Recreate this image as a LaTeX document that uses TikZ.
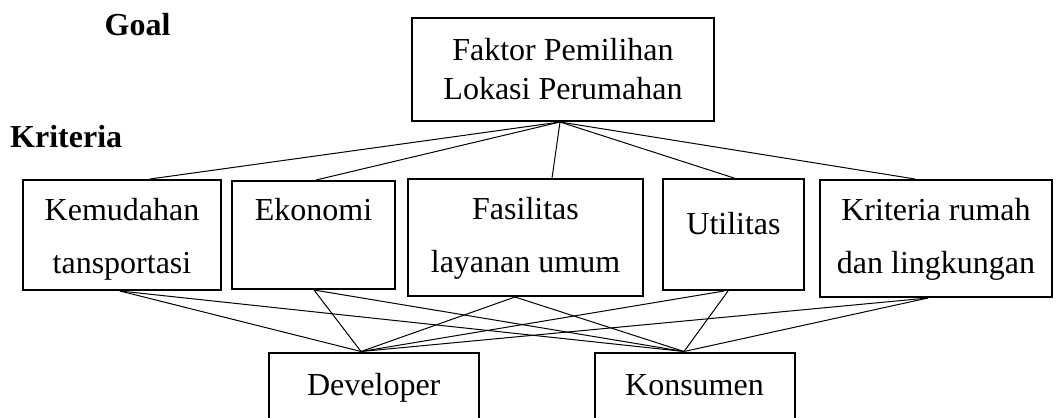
\documentclass[tikz,border=0pt]{standalone}
\usepackage{fontspec}
\setmainfont{Liberation Serif}
\newcommand{\twoline}[4]{\rule{0pt}{#1bp}#3\\#4\rule[-#2bp]{0pt}{#2bp}}
\newcommand{\oneline}[3]{\rule{0pt}{#1bp}#3\rule[-#2bp]{0pt}{#2bp}}
\begin{document}
\begin{tikzpicture}[x=1bp,y=-1bp,
  critbox/.style={draw, line width=2bp, inner sep=0pt, align=center,
    font=\fontsize{32bp}{53bp}\selectfont},
  levellabel/.style={inner sep=0pt, font=\fontsize{32bp}{38bp}\selectfont\bfseries},
  conn/.style={line width=1bp}]
\clip (0,0) rectangle (1057,417);
% level labels
\node[levellabel, anchor=base] (goallbl) at (137.5,35.5) {Goal};
\node[levellabel, anchor=base west] (kritlbl) at (10,147.6) {Kriteria};
% goal
\node[critbox, minimum width=302bp, minimum height=103bp,
  font=\fontsize{32bp}{39bp}\selectfont] (goal) at (563,69.5)
  {\twoline{22}{2}{Faktor Pemilihan}{Lokasi Perumahan}};
% criteria
\node[critbox, minimum width=198bp, minimum height=110bp] (kem) at (122,235)
  {\twoline{30}{7}{Kemudahan}{tansportasi}};
\node[critbox, minimum width=163bp, minimum height=108bp] (eko) at (313.5,235)
  {\twoline{30}{7}{Ekonomi}{\mbox{}}};
\node[critbox, minimum width=235bp, minimum height=117bp] (fas) at (525.5,237.5)
  {\twoline{24}{7}{Fasilitas}{layanan umum}};
\node[critbox, minimum width=141bp, minimum height=111bp] (uti) at (733.5,234.5)
  {\oneline{22}{23}{Utilitas}};
\node[critbox, minimum width=232bp, minimum height=117bp] (kri) at (936,238.5)
  {\twoline{23}{7}{Kriteria rumah}{dan lingkungan}};
% alternatives
\node[critbox, minimum width=210.5bp, minimum height=92.5bp] (dev) at (373.75,398.75)
  {\oneline{22}{29.5}{Developer}};
\node[critbox, minimum width=200bp, minimum height=92.5bp] (kon) at (694.5,398.75)
  {\oneline{22}{29.5}{Konsumen}};
% goal to criteria
\draw[conn] ([xshift=-3bp]goal.south) -- ([xshift=28bp]kem.north);
\draw[conn] ([xshift=-3bp]goal.south) -- ([xshift=2.5bp]eko.north);
\draw[conn] ([xshift=-3bp]goal.south) -- ([xshift=26.5bp]fas.north);
\draw[conn] ([xshift=-3bp]goal.south) -- ([xshift=0.5bp]uti.north);
\draw[conn] ([xshift=-3bp]goal.south) -- ([xshift=-21bp]kri.north);
% criteria to alternatives
\draw[conn] ([xshift=-2bp]kem.south) -- ([xshift=-12.75bp]dev.north);
\draw[conn] ([xshift=-2bp]kem.south) -- ([xshift=-10.5bp]kon.north);
\draw[conn] ([xshift=0.5bp]eko.south) -- ([xshift=-12.75bp]dev.north);
\draw[conn] ([xshift=0.5bp]eko.south) -- ([xshift=-10.5bp]kon.north);
\draw[conn] ([xshift=-10.5bp]fas.south) -- ([xshift=-12.75bp]dev.north);
\draw[conn] ([xshift=-10.5bp]fas.south) -- ([xshift=-10.5bp]kon.north);
\draw[conn] ([xshift=-9.5bp]uti.south) -- ([xshift=-12.75bp]dev.north);
\draw[conn] ([xshift=-5.5bp]uti.south) -- ([xshift=-10.5bp]kon.north);
\draw[conn] ([xshift=-8bp]kri.south) -- ([xshift=-12.75bp]dev.north);
\draw[conn] ([xshift=-8bp]kri.south) -- ([xshift=-10.5bp]kon.north);
\end{tikzpicture}
\end{document}
